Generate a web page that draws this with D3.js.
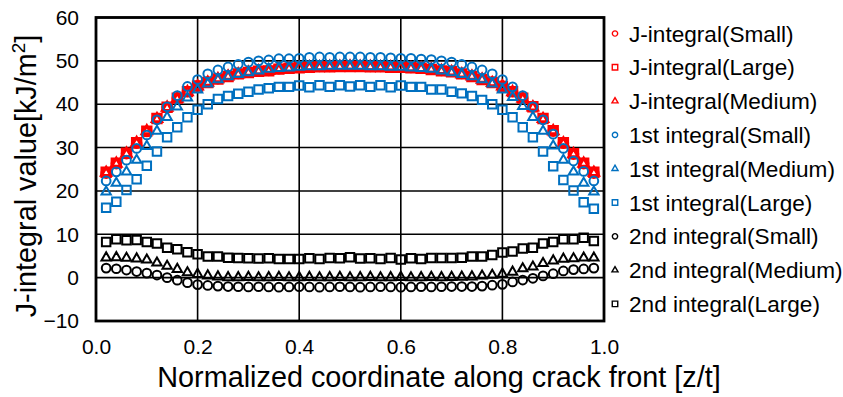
<!DOCTYPE html>
<html>
<head>
<meta charset="utf-8">
<script src="https://cdn.jsdelivr.net/npm/d3@7"></script>
<style>
  html, body { margin: 0; padding: 0; background: #fff; }
  svg { display: block; font-family: Arial, "Liberation Sans", sans-serif; }
</style>
</head>
<body>
<svg id="chart" width="843" height="397"></svg>
<script>
// Positions along the crack front (normalized z/t)
const zPos = [0.02,0.04,0.06,0.08,0.10,0.12,0.14,0.16,0.18,0.20,
              0.22,0.24,0.26,0.28,0.30,0.32,0.34,0.36,0.38,0.40,
              0.42,0.44,0.46,0.48,0.50,0.52,0.54,0.56,0.58,0.60,
              0.62,0.64,0.66,0.68,0.70,0.72,0.74,0.76,0.78,0.80,
              0.82,0.84,0.86,0.88,0.90,0.92,0.94,0.96,0.98];

const jSmall = [24.1,26.3,28.6,31.0,33.7,36.6,39.3,41.4,42.9,44.2,
                45.1,45.9,46.5,47.1,47.4,47.7,47.8,48.2,48.4,48.5,
                48.6,48.7,48.7,48.8,48.8,48.8,48.7,48.7,48.6,48.6,
                48.5,48.4,48.1,47.8,47.6,47.1,46.5,45.8,45.1,44.2,
                42.9,41.4,39.4,36.6,33.8,31.0,28.5,26.3,24.1];
const jLarge = [24.3,26.4,28.7,31.1,33.8,36.7,39.3,41.4,42.9,44.2,
                45.0,45.8,46.4,47.0,47.3,47.6,47.7,48.1,48.3,48.4,
                48.5,48.6,48.6,48.7,48.7,48.7,48.6,48.6,48.5,48.5,
                48.4,48.3,48.0,47.7,47.5,47.0,46.4,45.7,45.0,44.1,
                42.9,41.4,39.4,36.7,33.9,31.1,28.6,26.4,24.3];
const jMedium = [24.2,26.3,28.6,31.1,33.8,36.6,39.2,41.3,42.8,44.1,
                 45.0,45.8,46.4,46.9,47.3,47.6,47.7,48.0,48.2,48.4,
                 48.5,48.5,48.6,48.6,48.7,48.6,48.6,48.5,48.5,48.4,
                 48.3,48.2,48.0,47.7,47.4,46.9,46.4,45.7,44.9,44.1,
                 42.8,41.3,39.3,36.6,33.8,31.0,28.5,26.3,24.2];
const firstSmall = [22.3,24.4,27.1,29.8,32.9,36.4,39.4,42.0,44.1,45.7,
                    47.0,47.9,48.6,49.2,49.7,50.0,50.2,50.5,50.5,50.6,
                    50.8,50.9,50.8,50.9,50.9,50.9,50.8,50.8,50.7,50.6,
                    50.6,50.4,50.3,50.0,49.7,49.2,48.6,47.9,47.0,45.7,
                    44.0,42.0,39.4,36.4,33.1,29.8,26.9,24.5,22.3];
const firstMedium = [19.8,21.8,24.4,27.1,30.3,33.8,37.0,39.4,41.5,43.3,
                     44.7,45.7,46.4,46.9,47.3,47.7,48.1,48.3,48.4,48.6,
                     48.7,48.7,48.8,48.8,48.8,48.8,48.7,48.7,48.6,48.6,
                     48.4,48.3,48.1,47.7,47.3,46.9,46.4,45.7,44.7,43.3,
                     41.6,39.5,37.0,33.8,30.4,27.1,24.4,21.8,19.8];
const firstLarge = [16.1,17.5,20.2,22.7,25.8,29.1,32.4,34.7,37.0,38.7,
                    40.0,41.2,41.9,42.4,42.9,43.4,43.7,44.0,44.0,44.3,
                    43.9,44.4,44.0,44.4,44.1,44.4,44.0,44.4,43.9,44.3,
                    44.0,44.0,43.4,43.4,42.9,42.5,41.9,41.0,40.0,38.7,
                    37.0,34.7,32.4,29.1,25.7,22.5,20.1,17.4,15.9];
const secondSmall = [2.2,2.05,1.75,1.4,1.05,0.6,0.0,-0.6,-1.15,-1.6,
                     -1.8,-1.95,-2.05,-2.1,-2.15,-2.1,-2.15,-2.2,-2.15,-2.1,
                     -2.15,-2.2,-2.15,-2.1,-2.15,-2.2,-2.15,-2.1,-2.15,-2.2,
                     -2.15,-2.1,-2.15,-2.1,-2.05,-2.05,-2.05,-1.95,-1.75,-1.55,
                     -1.0,-0.55,-0.15,0.4,0.9,1.55,1.85,2.0,2.2];
const secondMedium = [4.6,4.65,4.5,4.35,4.1,3.4,2.65,1.95,1.15,0.8,
                      0.45,0.2,0.05,0.05,0.1,0.0,0.05,0.1,0.0,0.05,
                      0.1,0.0,0.05,0.1,0.0,0.05,0.1,0.0,0.05,0.1,
                      0.0,0.05,0.1,0.05,0.1,0.15,0.2,0.4,0.6,0.85,
                      1.3,2.1,2.5,3.3,3.9,4.3,4.4,4.55,4.55];
const secondLarge = [8.2,8.85,8.6,8.7,8.2,7.85,6.9,6.55,5.85,5.4,
                     4.9,4.85,4.6,4.55,4.45,4.4,4.45,4.3,4.3,4.3,
                     4.45,4.3,4.55,4.45,4.7,4.4,4.45,4.3,4.55,4.2,
                     4.45,4.3,4.55,4.55,4.55,4.6,4.85,4.9,5.2,5.8,
                     6.05,6.7,6.9,7.9,8.2,8.85,8.85,9.2,8.45];

const xTicks = [0, 0.2, 0.4, 0.6, 0.8, 1.0];
const yTicks = [-10, 0, 10, 20, 30, 40, 50, 60];

const RED = "#ff0000", BLUE = "#0070c0", BLACK = "#000000";

// Series in drawing order (later ones sit on top)
const series = [
  { name: "J-integral(Small)",    values: jSmall,       color: RED,   shape: "circle" },
  { name: "J-integral(Large)",    values: jLarge,       color: RED,   shape: "square" },
  { name: "J-integral(Medium)",   values: jMedium,      color: RED,   shape: "triangle" },
  { name: "1st integral(Small)",  values: firstSmall,   color: BLUE,  shape: "circle" },
  { name: "1st integral(Medium)", values: firstMedium,  color: BLUE,  shape: "triangle" },
  { name: "1st integral(Large)",  values: firstLarge,   color: BLUE,  shape: "square" },
  { name: "2nd integral(Small)",  values: secondSmall,  color: BLACK, shape: "circle" },
  { name: "2nd integral(Medium)", values: secondMedium, color: BLACK, shape: "triangle" },
  { name: "2nd integral(Large)",  values: secondLarge,  color: BLACK, shape: "square" }
];

const FONT = "Arial, 'Liberation Sans', sans-serif";
const svg = d3.select("#chart");
const plot = { left: 96, right: 604, top: 17.5, bottom: 321 };

const x = d3.scaleLinear().domain([0, 1]).range([plot.left, plot.right]);
const y = d3.scaleLinear().domain([-10, 60]).range([plot.bottom, plot.top]);

// Grid lines
const grid = svg.append("g");
grid.selectAll("line.v").data(xTicks).join("line")
  .attr("x1", d => x(d)).attr("x2", d => x(d))
  .attr("y1", plot.top).attr("y2", plot.bottom)
  .attr("stroke", "#000").attr("stroke-width", 1.6);
grid.selectAll("line.h").data(yTicks).join("line")
  .attr("x1", plot.left).attr("x2", plot.right)
  .attr("y1", d => y(d)).attr("y2", d => y(d))
  .attr("stroke", "#000").attr("stroke-width", 1.6);

// Plot frame
svg.append("rect")
  .attr("x", plot.left).attr("y", plot.top)
  .attr("width", plot.right - plot.left).attr("height", plot.bottom - plot.top)
  .attr("fill", "none").attr("stroke", "#000").attr("stroke-width", 2.8);

// Axes (labels only, lines come from the grid/frame)
const xAxis = d3.axisBottom(x).tickValues(xTicks).tickFormat(d3.format(".1f")).tickSize(0).tickPadding(18);
const gx = svg.append("g").attr("transform", `translate(0,${plot.bottom})`).call(xAxis);
gx.select(".domain").remove();
gx.selectAll("text").attr("font-size", 21).attr("fill", "#000").attr("font-family", FONT);

const yAxis = d3.axisLeft(y).tickValues(yTicks).tickFormat(d3.format("d")).tickSize(0).tickPadding(17);
const gy = svg.append("g").attr("transform", `translate(${plot.left},0)`).call(yAxis);
gy.select(".domain").remove();
gy.selectAll("text").attr("font-size", 21).attr("fill", "#000").attr("font-family", FONT);

// Marker shapes
const symbolFor = { circle: d3.symbolCircle, square: d3.symbolSquare, triangle: d3.symbolTriangle };
const sizeFor = { circle: 60, square: 72, triangle: 38 };
const legendSizeFor = { circle: 22, square: 30, triangle: 16 };

const marks = svg.append("g");
series.forEach(s => {
  const sym = d3.symbol().type(symbolFor[s.shape]).size(sizeFor[s.shape]);
  marks.append("g").selectAll("path").data(s.values).join("path")
    .attr("d", sym)
    .attr("transform", (v, i) => `translate(${x(zPos[i])},${y(v)})`)
    .attr("fill", "none")
    .attr("stroke", s.color)
    .attr("stroke-width", s.color === RED ? 2.9 : 2);
});

// Legend
const legendOrder = [
  "J-integral(Small)", "J-integral(Large)", "J-integral(Medium)",
  "1st integral(Small)", "1st integral(Medium)", "1st integral(Large)",
  "2nd integral(Small)", "2nd integral(Medium)", "2nd integral(Large)"
];
const legend = svg.append("g");
legendOrder.forEach((name, i) => {
  const s = series.find(d => d.name === name);
  const cy = 33.5 + i * 33.8;
  const sym = d3.symbol().type(symbolFor[s.shape]).size(legendSizeFor[s.shape]);
  legend.append("path").attr("d", sym)
    .attr("transform", `translate(615,${cy})`)
    .attr("fill", "none").attr("stroke", s.color).attr("stroke-width", 1.4);
  legend.append("text").attr("x", 629).attr("y", cy).attr("dy", "0.36em")
    .attr("font-size", 22.6).attr("fill", "#000").text(name);
});

// Axis titles
svg.append("text")
  .attr("x", 439).attr("y", 387)
  .attr("text-anchor", "middle").attr("font-size", 28.8).attr("fill", "#000")
  .text("Normalized coordinate along crack front [z/t]");

const yTitle = svg.append("text")
  .attr("transform", `translate(36,176) rotate(-90)`)
  .attr("text-anchor", "middle").attr("font-size", 28.8).attr("fill", "#000");
yTitle.append("tspan").text("J-integral value[kJ/m");
yTitle.append("tspan").attr("dy", -11).attr("font-size", 19).text("2");
yTitle.append("tspan").attr("dy", 11).text("]");
</script>
</body>
</html>
